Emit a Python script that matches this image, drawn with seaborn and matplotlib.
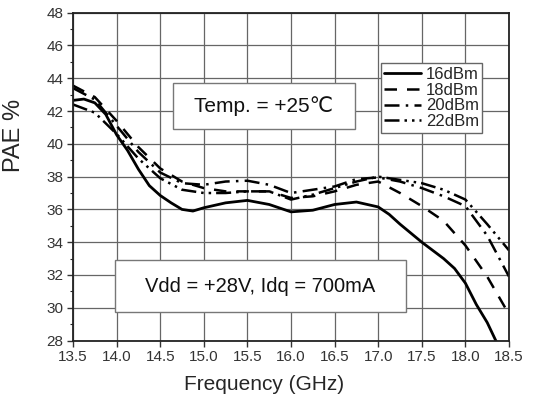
import numpy as np
import pandas as pd
import seaborn as sns
import matplotlib.pyplot as plt
from matplotlib.patches import Rectangle
from matplotlib.ticker import MultipleLocator

# values
freq_16 = [13.5, 13.625, 13.75, 13.875, 14.0, 14.125, 14.25, 14.375, 14.5,
           14.625, 14.75, 14.875, 15.0, 15.25, 15.5, 15.75, 16.0, 16.25, 16.5,
           16.75, 17.0, 17.125, 17.25, 17.5, 17.75, 17.875, 18.0, 18.125,
           18.25, 18.375]
pae_16 = [42.65, 42.73, 42.5, 41.8, 40.55, 39.6, 38.45, 37.45, 36.85,
          36.4, 36.0, 35.9, 36.1, 36.4, 36.55, 36.3, 35.85, 35.95, 36.3,
          36.45, 36.15, 35.7, 35.1, 34.0, 33.0, 32.4, 31.5, 30.2,
          29.1, 27.7]
freq = [13.5, 13.75, 14.0, 14.25, 14.5, 14.75, 15.0, 15.25, 15.5, 15.75, 16.0,
        16.25, 16.5, 16.75, 17.0, 17.25, 17.5, 17.75, 18.0, 18.25, 18.5]
pae_18 = [43.55, 42.85, 41.4, 39.8, 38.5, 37.7, 37.3, 37.1, 37.1, 37.1, 36.7,
          36.8, 37.1, 37.5, 37.7, 37.0, 36.2, 35.3, 33.8, 31.9, 29.6]
pae_20 = [43.4, 42.7, 41.1, 39.5, 38.25, 37.6, 37.5, 37.7, 37.75, 37.5, 37.0,
          37.2, 37.4, 37.85, 37.95, 37.7, 37.3, 36.8, 36.2, 34.4, 31.9]
pae_22 = [42.4, 41.9, 40.6, 39.1, 37.9, 37.2, 37.0, 37.0, 37.1, 37.1, 36.6,
          36.9, 37.3, 37.7, 38.0, 37.8, 37.6, 37.2, 36.6, 35.1, 33.5]
powers = ['16dBm', '18dBm', '20dBm', '22dBm']
x_ticks = [13.5, 14.0, 14.5, 15.0, 15.5, 16.0, 16.5, 17.0, 17.5, 18.0, 18.5]
y_ticks = [28, 30, 32, 34, 36, 38, 40, 42, 44, 46, 48]

df = pd.concat([
    pd.DataFrame({'freq': f, 'pae': vals, 'power': p})
    for p, f, vals in zip(powers, [freq_16, freq, freq, freq],
                          [pae_16, pae_18, pae_20, pae_22])
])

sns.set_style('ticks')
plt.rcParams['font.family'] = ['Liberation Sans', 'DejaVu Sans']

fig = plt.figure(figsize=(5.33, 3.96), dpi=100)
ax = fig.add_axes([0.137, 0.14, 0.818, 0.828])

dash_map = {'16dBm': '', '18dBm': (5, 4), '20dBm': (6, 2.5, 1, 2.5),
            '22dBm': (6, 2, 1, 2, 1, 2)}
width_map = {'16dBm': 2.0, '18dBm': 1.8, '20dBm': 1.8, '22dBm': 1.8}
for p in powers:
    sns.lineplot(data=df[df['power'] == p], x='freq', y='pae', ax=ax,
                 color='black', lw=width_map[p], label=p,
                 linestyle='-' if p == '16dBm' else (0, dash_map[p]))

ax.set_xlim(13.5, 18.5)
ax.set_ylim(28, 48)
ax.set_xticks(x_ticks)
ax.set_xticklabels([f'{t:.1f}' for t in x_ticks])
ax.set_yticks(y_ticks)
ax.yaxis.set_minor_locator(MultipleLocator(1))
ax.grid(True, which='major', color='#666666', lw=0.9)
for s in ax.spines.values():
    s.set_visible(True)
    s.set_color('#222222')
    s.set_linewidth(1.3)
ax.tick_params(axis='both', which='major', direction='out', length=4, width=1,
               labelsize=11, colors='#333333', labelcolor='#333333', pad=3)
ax.tick_params(axis='y', which='minor', direction='out', length=2.5, width=0.8)
ax.set_xlabel('Frequency (GHz)', fontsize=15)
ax.xaxis.set_label_coords(0.438, -0.105)
ax.set_ylabel('PAE %', fontsize=17)
ax.yaxis.set_label_coords(-0.11, 0.627)

ax.legend(loc='upper left', bbox_to_anchor=(0.706, 0.845), fontsize=12,
          handlelength=2.2, handletextpad=0.3, labelspacing=0.05,
          borderpad=0.2, borderaxespad=0, fancybox=False, framealpha=1,
          edgecolor='#666666')

# annotation boxes
ax.add_patch(Rectangle((14.65, 40.88), 2.08, 2.85, fc='white', ec='#777777',
                       lw=1, zorder=3))
ax.text(15.69, 42.3, 'Temp. = +25℃', fontsize=15, ha='center', va='center',
        color='#111111', zorder=4)
ax.add_patch(Rectangle((13.98, 29.75), 3.34, 3.15, fc='white', ec='#777777',
                       lw=1, zorder=3))
ax.text(15.65, 31.3, 'Vdd = +28V, Idq = 700mA', fontsize=14.5, ha='center',
        va='center', color='#111111', zorder=4)

fig.savefig('out.png', dpi=100)
